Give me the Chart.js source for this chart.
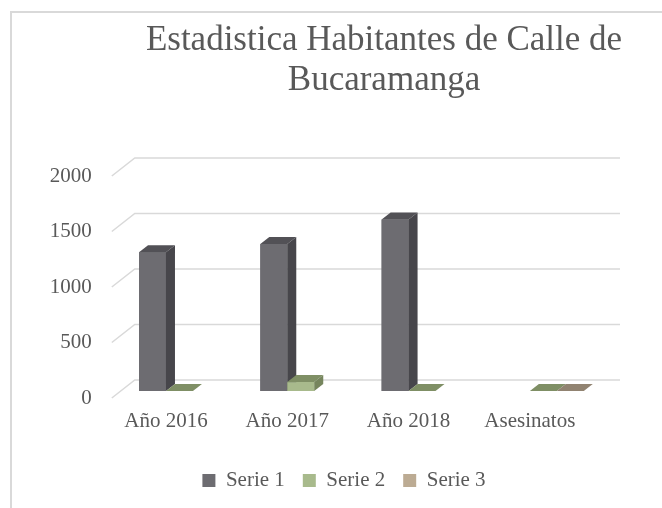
<!DOCTYPE html>
<html>
<head>
<meta charset="utf-8">
<script src="https://cdn.jsdelivr.net/npm/chart.js@4.4.0/dist/chart.umd.min.js"></script>
<style>
  body { margin: 0; background: #fff; overflow: hidden; }
  #frame { position: absolute; left: 10px; top: 11px; width: 700px; height: 600px; border-left: 2px solid #d9d9d9; border-top: 2px solid #d9d9d9; }
  #wrap { position: absolute; left: 0; top: 0; width: 662px; height: 508px; }
</style>
</head>
<body>
<div id="frame"></div>
<div id="wrap"><canvas id="myChart" width="662" height="508"></canvas></div>
<script>
var categories = ["Año 2016", "Año 2017", "Año 2018", "Asesinatos"];
var serie1 = [1250, 1325, 1545, null];
var serie2 = [0, 80, 0, 0];
var serie3 = [null, null, null, 0];
var yTicks = [0, 500, 1000, 1500, 2000];
var seriesNames = ["Serie 1", "Serie 2", "Serie 3"];
var titleLines = ["Estadistica Habitantes de Calle de", "Bucaramanga"];

var frontColors = ["#6d6c71", "#a8ba8c", "#bcab93"];
var topColors = ["#525156", "#7f8f65", "#918371"];
var sideColors = ["#47464b", "#76855d", "#867866"];
var dx = 9, dy = -7;

Chart.defaults.font.family = '"Liberation Serif", serif';
Chart.defaults.color = "#595959";

// back wall gridlines, left side diagonals and the value labels on the front edge
var walls = {
  id: "walls",
  beforeDatasetsDraw: function (chart) {
    var ctx = chart.ctx, a = chart.chartArea, y = chart.scales.y;
    ctx.save();
    ctx.strokeStyle = "#d9d9d9";
    ctx.lineWidth = 1.5;
    ctx.font = '21px "Liberation Serif", serif';
    ctx.fillStyle = "#595959";
    ctx.textAlign = "right";
    ctx.textBaseline = "middle";
    yTicks.forEach(function (v) {
      var py = y.getPixelForValue(v);
      ctx.beginPath();
      ctx.moveTo(a.left - 7, py + 7);
      ctx.lineTo(a.left + 16, py - 11);
      ctx.lineTo(a.right + 16, py - 11);
      ctx.stroke();
      ctx.fillText(String(v), a.left - 27, py + 7);
    });
    ctx.restore();
  },
};

function poly(ctx, pts, color) {
  ctx.fillStyle = color;
  ctx.beginPath();
  ctx.moveTo(pts[0][0], pts[0][1]);
  for (var k = 1; k < pts.length; k++) ctx.lineTo(pts[k][0], pts[k][1]);
  ctx.closePath();
  ctx.fill();
}

// 3d boxes, painted left to right so each front hides the previous side
var depth = {
  id: "depth",
  afterDatasetsDraw: function (chart) {
    var ctx = chart.ctx;
    ctx.save();
    categories.forEach(function (c, j) {
      chart.data.datasets.forEach(function (ds, i) {
        if (ds.data[j] === null) return;
        var bar = chart.getDatasetMeta(i).data[j];
        var l = bar.x - bar.width / 2, r = bar.x + bar.width / 2;
        var t = bar.y, b = bar.base;
        poly(ctx, [[l, t], [r, t], [r, b], [l, b]], frontColors[i]);
        poly(ctx, [[l, t], [l + dx, t + dy], [r + dx, t + dy], [r, t]], topColors[i]);
        poly(ctx, [[r, t], [r + dx, t + dy], [r + dx, b + dy], [r, b]], sideColors[i]);
      });
    });
    ctx.restore();
  },
};

var titleText = {
  id: "titleText",
  afterDraw: function (chart) {
    var ctx = chart.ctx;
    ctx.save();
    ctx.font = '35px "Liberation Serif", serif';
    ctx.fillStyle = "#595959";
    ctx.textAlign = "center";
    ctx.textBaseline = "alphabetic";
    ctx.fillText(titleLines[0], 384, 49.5);
    ctx.fillText(titleLines[1], 384, 90);
    ctx.restore();
  },
};

var ctx = document.getElementById("myChart").getContext("2d");
var myChart = new Chart(ctx, {
  type: "bar",
  data: {
    labels: categories,
    datasets: [
      { label: seriesNames[0], data: serie1, backgroundColor: frontColors[0], borderWidth: 0 },
      { label: seriesNames[1], data: serie2, backgroundColor: frontColors[1], borderWidth: 0 },
      { label: seriesNames[2], data: serie3, backgroundColor: frontColors[2], borderWidth: 0 },
    ],
  },
  options: {
    responsive: false,
    animation: false,
    categoryPercentage: 3 / 4.5,
    barPercentage: 1,
    layout: { padding: { left: 84, right: 58, top: 169, bottom: 7 } },
    scales: {
      x: {
        grid: { display: false },
        border: { display: false },
        ticks: { font: { size: 21 }, padding: 10, labelOffset: -13.5, maxRotation: 0 },
        afterFit: function (s) { s.height = 61; },
      },
      y: {
        min: 0,
        max: 2000,
        grid: { display: false },
        border: { display: false },
        ticks: { display: false, stepSize: 500 },
        afterFit: function (s) { s.width = 34.8; },
      },
    },
    plugins: {
      legend: {
        position: "bottom",
        labels: { boxWidth: 13, boxHeight: 13, padding: 18, font: { size: 21 } },
      },
      tooltip: { enabled: false },
    },
  },
  plugins: [walls, depth, titleText],
});
</script>
</body>
</html>
